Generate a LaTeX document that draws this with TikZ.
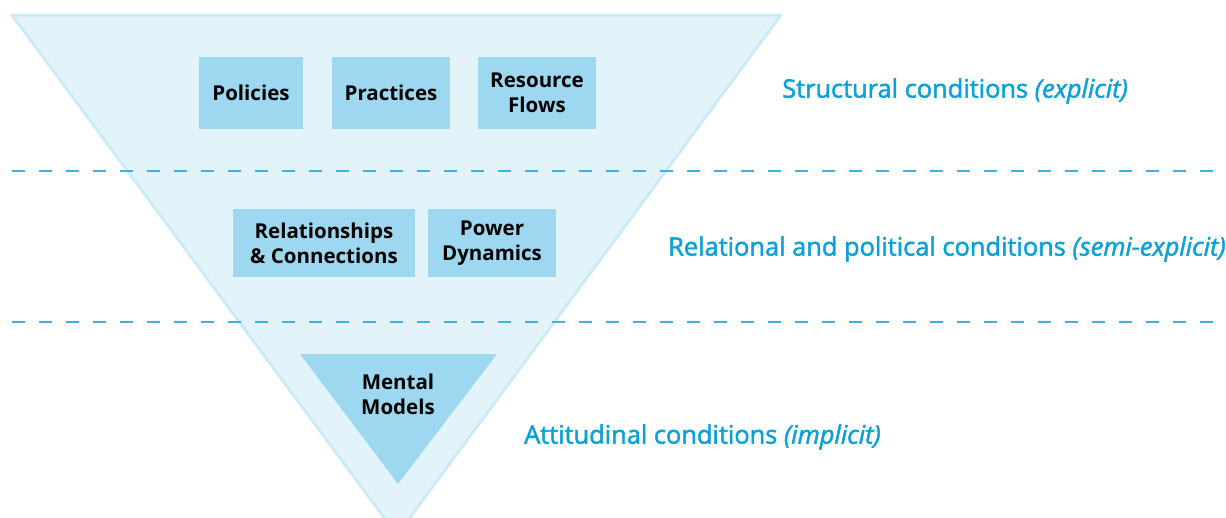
\documentclass[tikz,border=0pt]{standalone}
\usepackage{fontspec}
\setmainfont{Open Sans}
\newfontfamily\levelfont{Open Sans}[FakeBold=1.8]
\usepackage{xcolor}
\usetikzlibrary{positioning}

\definecolor{funnelfill}{HTML}{E3F3FA}
\definecolor{funneledge}{HTML}{CDEBF5}
\definecolor{boxfill}{HTML}{9DD8F0}
\definecolor{levelblue}{HTML}{0AA0D8}
\definecolor{dashblue}{HTML}{3AB2E6}

\begin{document}
\begin{tikzpicture}[
    x=1pt, y=-1pt,
    every node/.style={inner sep=0pt},
    cond/.style={fill=boxfill, align=center, font=\fontsize{20.5}{25}\selectfont\bfseries,
                 minimum height=72pt},
    level/.style={anchor=west, text=levelblue, font=\levelfont\fontsize{25.4}{28}\selectfont},
    divider/.style={dashblue, line width=1.5pt, dash pattern=on 13pt off 14pt}
]
\useasboundingbox (0,0) rectangle (1226,517);

% Funnel
\fill[funnelfill] (12,15) -- (781,15) -- (397,535) -- cycle;
\draw[funneledge, line width=3pt, line join=round] (12,15) -- (781,15) -- (397,535) -- cycle;

% Structural level
\node[cond, minimum width=104pt] (policies) at (251,93) {Policies};
\node[cond, minimum width=118pt] (practices) at (391,93) {Practices};
\node[cond, minimum width=118pt] (flows) at (537,93) {Resource\\Flows};

% Relational level
\node[cond, minimum width=182pt, minimum height=68pt] (relations) at (324,243) {Relationships\\\& Connections};
\node[cond, minimum width=128pt, minimum height=68pt] (power) at (492,243) {Power\\Dynamics};

% Attitudinal level
\fill[boxfill] (300,354) -- (497,354) -- (398,484) -- cycle;
\node[align=center, font=\fontsize{20.5}{25}\selectfont\bfseries] (models) at (398,394) {Mental\\Models};

% Dividers
\draw[divider] (12,171) -- (1226,171);
\draw[divider] (12,322) -- (1226,322);

% Level labels
\node[level] (structural) at (782,91) {Structural conditions \textit{(explicit)}};
\node[level] (relational) at (668,249) {Relational and political conditions \textit{(semi-explicit)}};
\node[level] (attitudinal) at (524,437) {Attitudinal conditions \textit{(implicit)}};

\end{tikzpicture}
\end{document}
